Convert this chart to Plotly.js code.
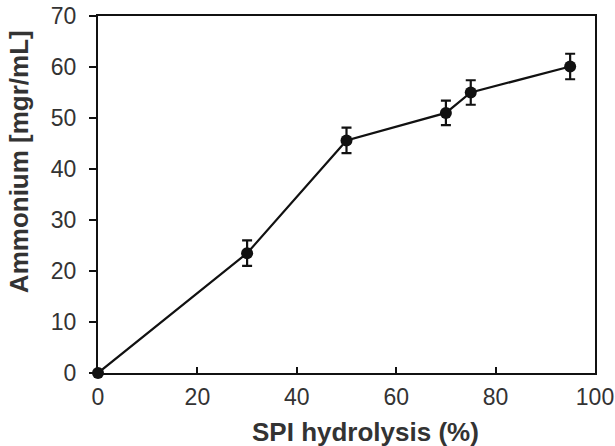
<!DOCTYPE html>
<html><head><meta charset="utf-8">
<script src="https://cdn.plot.ly/plotly-3.0.1.min.js"></script>
<style>body{margin:0;padding:0;background:#fff}#chart{width:615px;height:446px}</style>
</head><body><div id="chart"></div>
<script>
const hydrolysis = [0, 30, 50, 70, 75, 95];
const ammonium = [0, 23.5, 45.6, 51.0, 55.0, 60.1];
const errors = [0, 2.5, 2.5, 2.4, 2.4, 2.5];
const xTicks = [0, 20, 40, 60, 80, 100];
const yTicks = [0, 10, 20, 30, 40, 50, 60, 70];

const trace = {
  x: hydrolysis, y: ammonium, type: 'scatter', mode: 'lines+markers',
  line: {color: '#111', width: 2.2},
  marker: {color: '#111', size: 12},
  error_y: {type: 'data', array: errors, visible: true, color: '#111', thickness: 2.2, width: 5},
  cliponaxis: false, showlegend: false
};
const layout = {
  width: 615, height: 446,
  margin: {l: 98, r: 20, t: 16, b: 73},
  paper_bgcolor: '#fff', plot_bgcolor: '#fff',
  font: {family: 'Liberation Sans, Arial, sans-serif', color: '#333', size: 23},
  xaxis: {range: [0, 100], tickvals: xTicks, ticks: 'inside', ticklen: 6, tickwidth: 2, tickcolor: '#111',
    ticklabelstandoff: 2,
    showline: true, linecolor: '#111', linewidth: 2, mirror: true, showgrid: false, zeroline: false,
    tickfont: {size: 23, color: '#333'}},
  yaxis: {range: [0, 70], tickvals: yTicks, ticks: 'outside', ticklen: 7, tickwidth: 2, tickcolor: '#111',
    ticklabelstandoff: 8,
    showline: true, linecolor: '#111', linewidth: 2, mirror: true, showgrid: false, zeroline: false,
    tickfont: {size: 23, color: '#333'}},
  annotations: [
    {text: '<b>SPI hydrolysis (%)</b>', xref: 'paper', yref: 'paper', x: 0.538, y: -0.165, xanchor: 'center', yanchor: 'middle',
      showarrow: false, font: {size: 26, color: '#333'}},
    {text: '<b>Ammonium [mgr/mL]</b>', xref: 'paper', yref: 'paper', x: -0.16, y: 0.592, xanchor: 'center', yanchor: 'middle',
      textangle: -90, showarrow: false, font: {size: 26, color: '#333'}}
  ]
};
Plotly.newPlot('chart', [trace], layout, {staticPlot: true});
</script></body></html>
